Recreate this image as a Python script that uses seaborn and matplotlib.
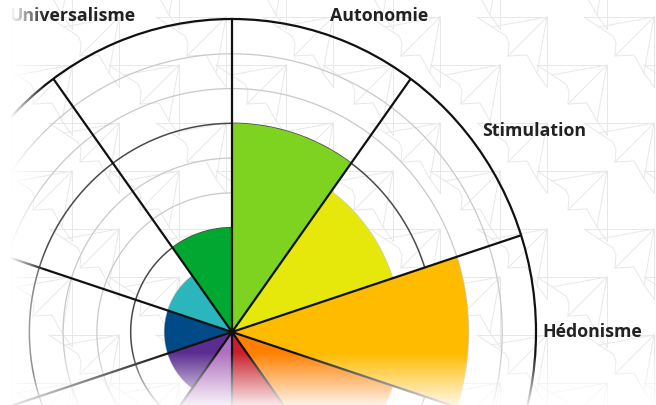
import numpy as np
import pandas as pd
import seaborn as sns
import matplotlib
matplotlib.use("Agg")
import matplotlib.pyplot as plt

# Schwartz values, clockwise from the top
valeurs = ["Autonomie", "Stimulation", "Hédonisme", "Réussite", "Pouvoir",
           "Sécurité", "Conformité", "Tradition", "Bienveillance", "Universalisme"]
scores = [6, 5, 7, 5, 3, 3, 2, 2, 2, 3]
couleurs = ["#7ed321", "#e5e80a", "#ffbb00", "#ff8000", "#c8202a",
            "#b070c0", "#5c2d91", "#004a88", "#2bb5bd", "#00a832"]
echelle = [1, 2, 3, 4, 5, 6, 7, 8]
echelle_max = 9

# only these labels fall inside the cropped view
etiquettes = {"Autonomie": (17.7, 9.54, "left"),
              "Stimulation": (52.0, 9.41, "left"),
              "Hédonisme": (90.0, 9.2, "left"),
              "Universalisme": (342.5, 9.53, "right")}

df = pd.DataFrame({"valeur": valeurs, "score": scores})
n = len(df)
step = 2 * np.pi / n
df["theta"] = np.arange(n) * step + step / 2

sns.set_style("white")
plt.rcParams["font.family"] = ["Open Sans", "DejaVu Sans"]
palette = sns.color_palette(couleurs)

fig = plt.figure(figsize=(6.56, 4.05), dpi=100)
W, H = 656, 405

# paper-plane wallpaper behind the chart
ax_bg = fig.add_axes([0, 0, 1, 1], zorder=0)
ax_bg.set_xlim(0, W)
ax_bg.set_ylim(H, 0)
ax_bg.axis("off")
plane = [
    [(0, 0), (70, 0), (70, 70)],
    [(70, 0), (31, 39)],
    [(15, 10), (70, 0)],
    [(0, 0), (15, 10), (29, 19), (32, 26), (31, 39)],
    [(31, 39), (50, 38), (60, 56), (70, 70)],
    [(70, 0), (60, 56)],
]
for ox0, oy0 in [(477, 17), (430, 65)]:
    for i in range(-6, 4):
        for j in range(-2, 4):
            ox, oy = ox0 + 107 * i, oy0 + 106 * j
            for seg in plane:
                xs = [ox + p[0] for p in seg]
                ys = [oy + p[1] for p in seg]
                ax_bg.plot(xs, ys, color="#e8e8e8", lw=0.7)

# polar chart (slightly squeezed horizontally like the source)
cx, cy, rx, ry = 232, 332, 304, 313
rect = [(cx - rx) / W, (H - cy - ry) / H, 2 * rx / W, 2 * ry / H]
ax = fig.add_axes(rect, projection="polar", zorder=1)
ax.set_aspect("auto")
ax.patch.set_alpha(0)
ax.set_theta_zero_location("N")
ax.set_theta_direction(-1)
ax.set_ylim(0, echelle_max)
ax.grid(False)
ax.set_xticks([])
ax.set_yticks([])
ax.spines["polar"].set_color("#111111")
ax.spines["polar"].set_linewidth(1.6)

ring_theta = np.linspace(0, 2 * np.pi, 500)
for r in echelle:
    dark = r % 3 == 0
    ax.plot(ring_theta, np.full_like(ring_theta, r),
            color="#4a4a4a" if dark else "#c9c9c9",
            lw=1.1 if dark else 0.9, zorder=2)

ax.bar(df["theta"], df["score"], width=step, color=palette,
       edgecolor="none", zorder=3)

for k in range(n):
    b = k * step
    ax.plot([b, b], [0, echelle_max], color="#111111", lw=1.6,
            solid_capstyle="butt", zorder=4)

for nom, (ang, r, ha) in etiquettes.items():
    ax.text(np.deg2rad(ang), r, nom, ha=ha, va="center", fontsize=12.8,
            fontweight="bold", color="#222222", zorder=5)

# white fade at the bottom and left edge
yy, xx = np.mgrid[0:H, 0:W]
a_bottom = np.clip((yy - 352) / (408 - 352), 0, 1) * 0.97
a_left = np.clip((45 - xx) / 35, 0, 1)
fade = np.ones((H, W, 4))
fade[..., 3] = np.maximum(a_bottom, a_left)
ax_fade = fig.add_axes([0, 0, 1, 1], zorder=10)
ax_fade.imshow(fade, extent=(0, W, H, 0), aspect="auto", interpolation="bilinear")
ax_fade.set_xlim(0, W)
ax_fade.set_ylim(H, 0)
ax_fade.axis("off")

fig.savefig("out.png", dpi=100)
